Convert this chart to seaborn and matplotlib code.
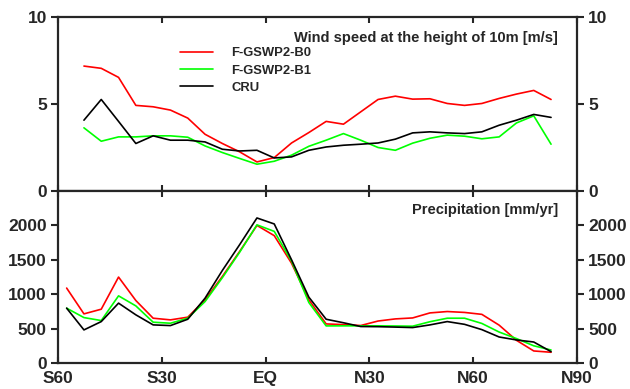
import numpy as np
import pandas as pd
import matplotlib
matplotlib.use("Agg")
import matplotlib.pyplot as plt
import seaborn as sns

# latitude band centres
wind_lat = np.arange(-52.5, 85, 5)
prec_lat = np.arange(-57.5, 85, 5)

# wind speed at 10m [m/s]
wind_b0 = [7.18, 7.05, 6.53, 4.92, 4.84, 4.65, 4.19, 3.26, 2.73, 2.25, 1.67, 1.92, 2.76, 3.36,
           4.0, 3.84, 4.55, 5.26, 5.45, 5.28, 5.3, 5.03, 4.92, 5.03, 5.32, 5.57, 5.78, 5.26]
wind_b1 = [3.63, 2.86, 3.11, 3.11, 3.17, 3.17, 3.09, 2.59, 2.21, 1.87, 1.54, 1.71, 2.06, 2.57,
           2.92, 3.3, 2.92, 2.5, 2.34, 2.75, 3.03, 3.21, 3.15, 3.0, 3.11, 3.91, 4.32, 2.69]
wind_cru = [4.07, 5.26, 4.0, 2.73, 3.17, 2.92, 2.92, 2.82, 2.4, 2.3, 2.34, 1.9, 1.96, 2.34,
            2.53, 2.63, 2.69, 2.76, 2.98, 3.34, 3.4, 3.34, 3.3, 3.4, 3.78, 4.07, 4.4, 4.23]

# precipitation [mm/yr]
prec_b0 = [1089, 714, 782, 1249, 908, 651, 627, 666, 918, 1258, 1622, 2000, 1851, 1450, 918,
           568, 558, 545, 610, 641, 655, 728, 748, 735, 707, 550, 330, 175, 156]
prec_b1 = [797, 660, 617, 976, 830, 593, 578, 651, 893, 1240, 1610, 2008, 1913, 1480, 879,
           539, 540, 540, 540, 538, 535, 600, 651, 651, 575, 450, 355, 250, 189]
prec_cru = [797, 481, 602, 870, 700, 554, 544, 636, 942, 1345, 1720, 2108, 2021, 1500, 957,
            636, 585, 530, 528, 522, 515, 554, 602, 562, 485, 378, 335, 305, 165]

series = ["F-GSWP2-B0", "F-GSWP2-B1", "CRU"]
colors = ["#ff0000", "#00ff00", "#000000"]

xticks = [-60, -30, 0, 30, 60, 90]
xlabels = ["S60", "S30", "EQ", "N30", "N60", "N90"]

wind = pd.DataFrame({
    "lat": np.tile(wind_lat, 3),
    "value": wind_b0 + wind_b1 + wind_cru,
    "run": np.repeat(series, len(wind_lat)),
})
prec = pd.DataFrame({
    "lat": np.tile(prec_lat, 3),
    "value": prec_b0 + prec_b1 + prec_cru,
    "run": np.repeat(series, len(prec_lat)),
})

sns.set_style("ticks")
plt.rcParams["font.family"] = ["Liberation Sans", "DejaVu Sans"]
plt.rcParams["font.weight"] = "bold"

fig = plt.figure(figsize=(6.3, 3.89), dpi=100)
ax1 = fig.add_axes([58 / 630, 1 - 191 / 389, 519 / 630, 174 / 389])
ax2 = fig.add_axes([58 / 630, 1 - 363 / 389, 519 / 630, 172 / 389])

pal = dict(zip(series, colors))
sns.lineplot(data=wind, x="lat", y="value", hue="run", palette=pal, ax=ax1, linewidth=1.2)
sns.lineplot(data=prec, x="lat", y="value", hue="run", palette=pal, ax=ax2, linewidth=1.2,
             legend=False)

for ax in (ax1, ax2):
    ax.set_xlim(-60, 90)
    ax.set_xticks(xticks)
    ax.set_xlabel("")
    ax.set_ylabel("")
    for s in ax.spines.values():
        s.set_visible(True)
        s.set_linewidth(1.6)
    ax.tick_params(axis="x", direction="in", top=True, bottom=True, length=4, width=1.5)
    ax.tick_params(axis="y", direction="out", left=True, right=True, labelleft=True,
                   labelright=True, length=5, width=1.5, labelsize=12.5, pad=3)

ax1.set_ylim(0, 10)
ax1.set_yticks([0, 5, 10])
ax1.tick_params(axis="x", labelbottom=False)

ax2.set_ylim(0, 2500)
ax2.set_yticks([0, 500, 1000, 1500, 2000])
ax2.set_xticklabels(xlabels)
ax2.tick_params(axis="x", labelsize=12.5, pad=6)

ax1.text(0.963, 0.88, "Wind speed at the height of 10m [m/s]", transform=ax1.transAxes,
         ha="right", va="center", fontsize=10.5, fontweight="bold")
ax2.text(0.963, 0.89, "Precipitation [mm/yr]", transform=ax2.transAxes,
         ha="right", va="center", fontsize=10.5, fontweight="bold")

ax1.legend(loc="upper left", bbox_to_anchor=((180 - 58) / 519, (191 - 47) / 174),
           frameon=False, borderaxespad=0, borderpad=0, handlelength=2.5,
           handletextpad=1.45, labelspacing=0.4, prop={"size": 9.4, "weight": "bold"})

fig.savefig("out.png", dpi=100)
